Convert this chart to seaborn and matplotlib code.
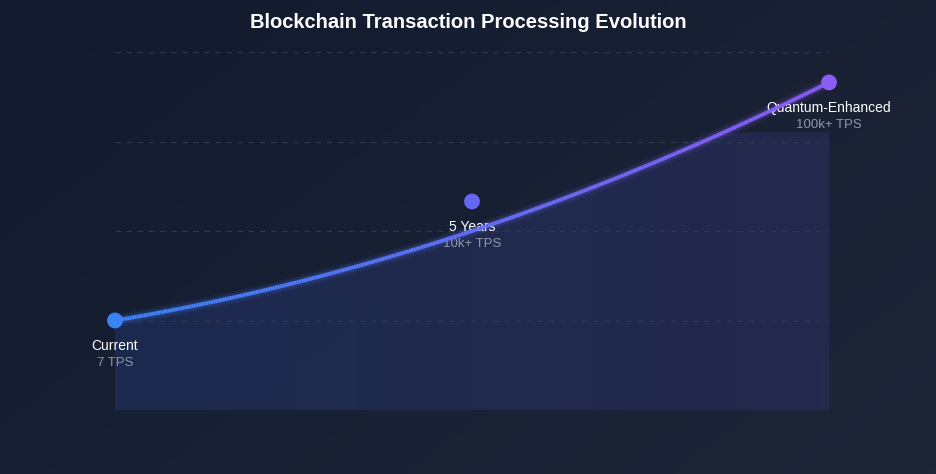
import numpy as np
import pandas as pd
import matplotlib
matplotlib.use("Agg")
import matplotlib.pyplot as plt
import seaborn as sns
from matplotlib.collections import LineCollection
from matplotlib.colors import LinearSegmentedColormap
from matplotlib.path import Path
from matplotlib.patches import PathPatch

stages = ["Current", "5 Years", "Quantum-Enhanced"]
tps_labels = ["7 TPS", "10k+ TPS", "100k+ TPS"]
point_values = [1.0, 2.33, 3.66]
curve_values = [1.0, 2.0, 3.66]
point_colors = ["#3b82f6", "#6366f1", "#8b5cf6"]

sns.set_theme(style="dark")
plt.rcParams['font.family'] = ['Liberation Sans', 'DejaVu Sans']

fig = plt.figure(figsize=(9.36, 4.74), dpi=100)
bg = fig.add_axes([0, 0, 1, 1])
gx, gy = np.meshgrid(np.linspace(0, 1, 200), np.linspace(0, 1, 100))
bgcmap = LinearSegmentedColormap.from_list("bg", ["#111a2e", "#1f2638"])
bg.imshow(gx * 0.6 + gy * 0.4, cmap=bgcmap, aspect="auto", extent=[0, 1, 0, 1], origin="upper")
bg.axis("off")

ax = fig.add_axes([115/936, (474-410)/474, 714/936, (410-52)/474])
ax.set_facecolor("none")
x = np.arange(len(stages))
coef = np.polyfit(x, curve_values, 2)
xs = np.linspace(0, 2, 300)
ys = np.polyval(coef, xs)

fcmap = LinearSegmentedColormap.from_list("f", ["#1e2d55", "#262a52"])
im = ax.imshow(np.linspace(0, 1, 100)[None, :], cmap=fcmap, aspect="auto",
               extent=[0, 2, 0, 4], alpha=0.85, zorder=1)
top = np.minimum(ys, 3.1)
clip = PathPatch(Path(np.vstack([[0, 0], [2, 0], np.column_stack([xs[::-1], top[::-1]])])),
                 transform=ax.transData, facecolor="none", edgecolor="none")
ax.add_patch(clip)
im.set_clip_path(clip)

for yv in [1, 2, 3, 4]:
    ax.axhline(yv, color="#2e3852", lw=0.8, ls=(0, (5, 5)), zorder=2)

lcmap = LinearSegmentedColormap.from_list("l", ["#3b82f6", "#8b5cf6"])
pts = np.column_stack([xs, ys]).reshape(-1, 1, 2)
segs = np.concatenate([pts[:-1], pts[1:]], axis=1)
for lw, al in [(9, 0.08), (6, 0.15)]:
    lc = LineCollection(segs, cmap=lcmap, linewidths=lw, alpha=al, zorder=3)
    lc.set_array(xs[:-1]); ax.add_collection(lc)
lc = LineCollection(segs, cmap=lcmap, linewidths=2.8, zorder=4)
lc.set_array(xs[:-1]); ax.add_collection(lc)

pdf = pd.DataFrame({"x": x, "y": point_values, "stage": stages})
sns.scatterplot(data=pdf, x="x", y="y", hue="stage", palette=point_colors, s=130,
                edgecolor="none", legend=False, ax=ax, zorder=5, clip_on=False)
for i in range(3):
    ax.annotate(stages[i], (x[i], point_values[i]), xytext=(0, -26), textcoords="offset pixels",
                ha="center", va="center", color="white", fontsize=10)
    ax.annotate(tps_labels[i], (x[i], point_values[i]), xytext=(0, -43), textcoords="offset pixels",
                ha="center", va="center", color="#8f97a8", fontsize=9.5)

ax.set_xlim(0, 2); ax.set_ylim(0, 4)
ax.set_xlabel(""); ax.set_ylabel("")
ax.set_xticks([]); ax.set_yticks([])
for s in ax.spines.values():
    s.set_visible(False)
ax.grid(False)

fig.text(0.5, 1 - 22/474, "Blockchain Transaction Processing Evolution", ha="center", va="center",
         color="white", fontsize=14.5, fontweight="bold")
fig.savefig("out.png", dpi=100)
